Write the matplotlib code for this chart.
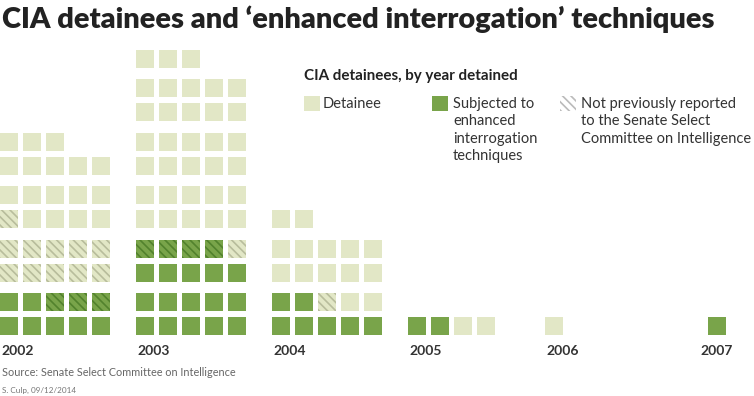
import matplotlib
matplotlib.use('Agg')
import matplotlib.pyplot as plt
from matplotlib.patches import Rectangle

# detainees per year, split by category
years = ['2002', '2003', '2004', '2005', '2006', '2007']
eit_reported = [7, 15, 7, 2, 0, 1]       # subjected to EIT
eit_unreported = [3, 4, 0, 0, 0, 0]      # subjected to EIT, not previously reported
det_unreported = [11, 1, 1, 0, 0, 0]     # detainee, not previously reported
det_reported = [17, 33, 14, 2, 1, 0]     # detainee

LIGHT = '#e2e7c6'
GREEN = '#79a44a'
LIGHT_STRIPE = '#b8bd9c'
GREEN_STRIPE = '#52822d'
TEXT = '#333333'

plt.rcParams['font.family'] = ['Lato', 'DejaVu Sans']
plt.rcParams['hatch.linewidth'] = 1.2

# layout in pixels (figure is 754x396 at dpi 100)
group_x = [0, 136, 272, 408, 545, 708]
col_pitch = 23
row_pitch = 24
block_pitch = 53.5
sq_w, sq_h = 17.5, 18
base_y = 317

fig = plt.figure(figsize=(7.54, 3.96), dpi=100)
ax = fig.add_axes([0, 0, 1, 1])
ax.set_xlim(0, 754)
ax.set_ylim(396, 0)
ax.axis('off')

styles = [
    (GREEN, None, GREEN),
    (GREEN, '\\\\\\\\', GREEN_STRIPE),
    (LIGHT, '\\\\\\\\', LIGHT_STRIPE),
    (LIGHT, None, LIGHT),
]

for i, year in enumerate(years):
    counts = [eit_reported[i], eit_unreported[i], det_unreported[i], det_reported[i]]
    k = 0
    for (face, hatch, edge), n in zip(styles, counts):
        for _ in range(n):
            row, col = divmod(k, 5)
            x = group_x[i] + col * col_pitch
            y = base_y - (row % 2) * row_pitch - (row // 2) * block_pitch
            ax.add_patch(Rectangle((x, y), sq_w, sq_h, facecolor=face,
                                   edgecolor=edge, hatch=hatch, linewidth=0))
            k += 1
    # last year sits alone at the right edge, label centred on it
    if i == len(years) - 1:
        ax.text(group_x[i] + sq_w / 2, 351, year, ha='center', va='center',
                fontsize=10, fontweight='bold', color=TEXT)
    else:
        ax.text(group_x[i] + 1, 351, year, ha='left', va='center',
                fontsize=10, fontweight='bold', color=TEXT)

# title, scaled to span the width like the original
title = ax.text(2, 19, 'CIA detainees and \u2018enhanced interrogation\u2019 techniques',
                ha='left', va='center', fontsize=20, fontweight='heavy', color='#222222')
fig.canvas.draw()
w = title.get_window_extent().width
title.set_fontsize(20 * 716 / w)

# legend
ax.text(304, 76, 'CIA detainees, by year detained', ha='left', va='center',
        fontsize=10.9, fontweight='bold', color='#222222')
ax.add_patch(Rectangle((304, 96), 16, 15, facecolor=LIGHT, linewidth=0))
ax.text(323, 104, 'Detainee', ha='left', va='center', fontsize=10.5, color=TEXT)
ax.add_patch(Rectangle((432, 96), 16, 15, facecolor=GREEN, linewidth=0))
ax.text(453, 97, 'Subjected to\nenhanced\ninterrogation\ntechniques', ha='left', va='top',
        fontsize=10.5, color=TEXT, linespacing=1.3)
ax.add_patch(Rectangle((560, 96), 16, 15, facecolor='white', edgecolor='#bbbbbb',
                       hatch='\\\\\\\\', linewidth=0))
ax.text(581, 97, 'Not previously reported\nto the Senate Select\nCommittee on Intelligence',
        ha='left', va='top', fontsize=10.5, color=TEXT, linespacing=1.3)

# footer
ax.text(2, 373, 'Source: Senate Select Committee on Intelligence', ha='left', va='center',
        fontsize=7.8, color='#666666')
ax.text(2, 390, 'S. Culp, 09/12/2014', ha='left', va='center', fontsize=5.9, color='#777777')

fig.savefig('out.png', dpi=100)
